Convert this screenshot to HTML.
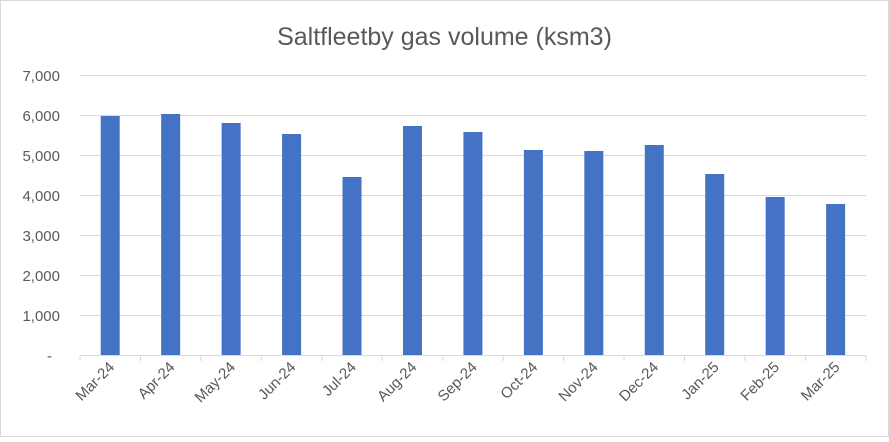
<!DOCTYPE html><html><head><style>body{margin:0;background:#fff}</style></head><body>
<svg width="889" height="437" xmlns="http://www.w3.org/2000/svg" font-family="Liberation Sans, sans-serif">
<rect x="0.5" y="0.5" width="888" height="436" fill="#fff" stroke="#d9d9d9"/>
<text x="444.5" y="45" text-anchor="middle" font-size="25" fill="#595959">Saltfleetby gas volume (ksm3)</text>
<g stroke="#d9d9d9" stroke-width="1">
<line x1="80" x2="866" y1="75.5" y2="75.5"/><line x1="80" x2="866" y1="115.5" y2="115.5"/>
<line x1="80" x2="866" y1="155.5" y2="155.5"/><line x1="80" x2="866" y1="195.5" y2="195.5"/>
<line x1="80" x2="866" y1="235.5" y2="235.5"/><line x1="80" x2="866" y1="275.5" y2="275.5"/>
<line x1="80" x2="866" y1="315.5" y2="315.5"/><line x1="80" x2="866" y1="355.5" y2="355.5"/>
</g>
<g font-size="15" fill="#595959" text-anchor="end">
<text x="60" y="81">7,000</text><text x="60" y="121">6,000</text><text x="60" y="161">5,000</text>
<text x="60" y="201">4,000</text><text x="60" y="241">3,000</text><text x="60" y="281">2,000</text>
<text x="60" y="321">1,000</text><text x="52" y="361">-</text>
</g>
<g id="bars" fill="#4472c4"></g>
<g id="ticks" stroke="#d9d9d9"></g>
<g id="labels" font-size="15" fill="#595959"></g>
<script>
var v=[5975,6025,5800,5525,4450,5725,5575,5125,5100,5250,4525,3950,3775];
var l=["Mar-24","Apr-24","May-24","Jun-24","Jul-24","Aug-24","Sep-24","Oct-24","Nov-24","Dec-24","Jan-25","Feb-25","Mar-25"];
var w=60.45,ns="http://www.w3.org/2000/svg",b=document.getElementById("bars"),t=document.getElementById("ticks"),lb=document.getElementById("labels");
for(var i=0;i<13;i++){var c=80+w*(i+0.5);var h=v[i]*0.04;
var r=document.createElementNS(ns,"rect");r.setAttribute("x",c-9.5);r.setAttribute("y",355-h);r.setAttribute("width",19);r.setAttribute("height",h);b.appendChild(r);
var ln=document.createElementNS(ns,"line");var x=80+w*i;ln.setAttribute("x1",x);ln.setAttribute("x2",x);ln.setAttribute("y1",355);ln.setAttribute("y2",361);t.appendChild(ln);
var tx=document.createElementNS(ns,"text");tx.setAttribute("text-anchor","end");tx.setAttribute("transform","translate("+(c+5)+",368) rotate(-45)");tx.textContent=l[i];lb.appendChild(tx);}
var ln=document.createElementNS(ns,"line");ln.setAttribute("x1",866);ln.setAttribute("x2",866);ln.setAttribute("y1",355);ln.setAttribute("y2",361);t.appendChild(ln);
</script>
</svg></body></html>
